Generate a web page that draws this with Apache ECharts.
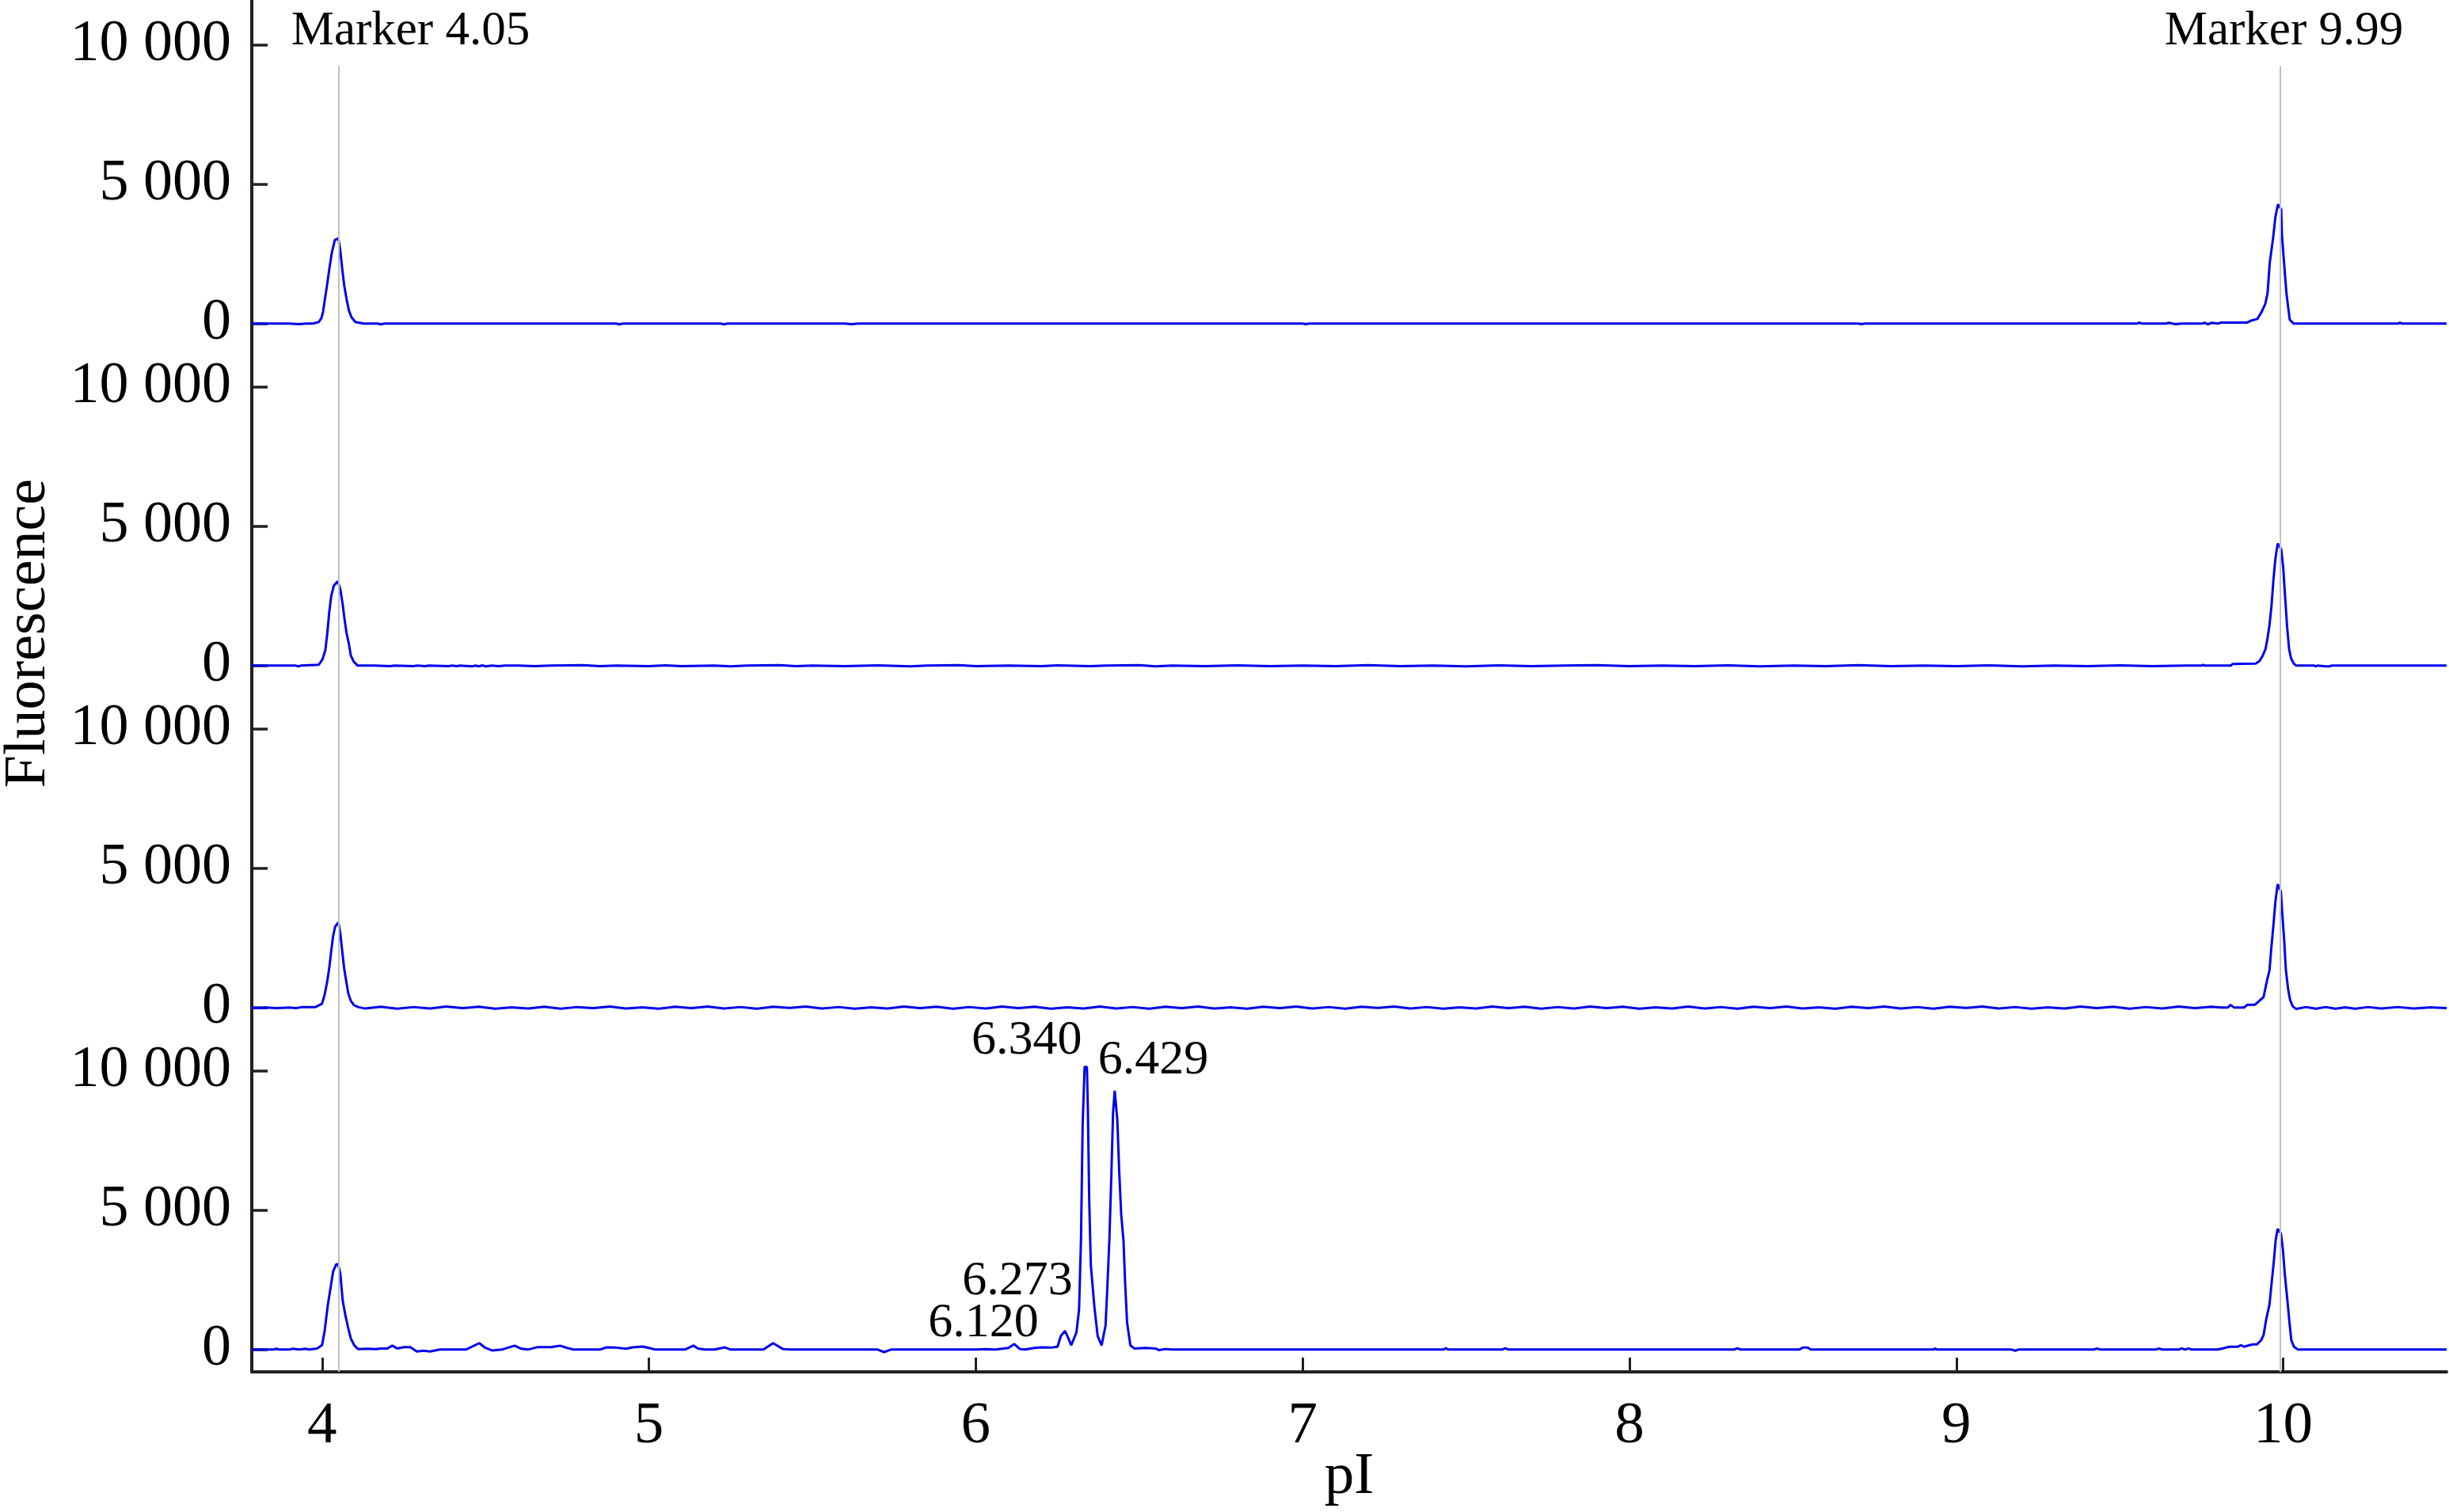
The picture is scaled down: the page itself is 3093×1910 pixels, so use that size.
<!DOCTYPE html>
<html><head><meta charset="utf-8">
<script src="https://cdn.jsdelivr.net/npm/echarts@6/dist/echarts.min.js"></script>
<style>html,body{margin:0;padding:0;background:#fff}#c{width:3093px;height:1910px}</style>
</head><body><div id="c"></div><script>
// ---------------- DATA ----------------
const xTicks = [4, 5, 6, 7, 8, 9, 10];
const yTicks = [0, 5000, 10000];
const xRange = [3.785, 10.5];
const markerPI = [4.05, 9.99];
const markerNames = ['Marker 4.05', 'Marker 9.99'];
const markerLineTop = 9250;
const peakPI = [6.340, 6.429, 6.273, 6.120];
const peakHeight = [10140, 9290, 670, 200];
const peakNames = ['6.340', '6.429', '6.273', '6.120'];

const trace1 = [[3.785,0],[3.9,0],[3.93,-20],[3.95,0],[3.971,0],[3.99,60],[3.998,200],[4.003,420],[4.009,900],[4.015,1360],[4.022,1950],[4.03,2550],[4.039,3000],[4.05,3060],[4.056,2600],[4.062,1930],[4.068,1350],[4.075,880],[4.082,480],[4.09,230],[4.102,60],[4.127,0],[4.17,0],[4.18,-25],[4.19,0],[4.9,0],[4.91,-25],[4.92,0],[5.22,0],[5.23,-25],[5.24,0],[5.6,0],[5.62,-20],[5.64,0],[7.0,0],[7.01,-20],[7.02,0],[8.7,0],[8.71,-20],[8.72,0],[9.55,0],[9.56,30],[9.57,0],[9.64,0],[9.65,30],[9.67,-20],[9.69,0],[9.75,0],[9.76,30],[9.77,-20],[9.78,30],[9.8,0],[9.81,40],[9.89,40],[9.9,100],[9.921,170],[9.933,400],[9.945,700],[9.952,1080],[9.959,2200],[9.969,3060],[9.976,3820],[9.984,4280],[9.994,4100],[9.996,3200],[10.003,2120],[10.01,1080],[10.02,140],[10.032,0],[10.35,0],[10.357,30],[10.365,0],[10.5,0]];

const trace2 = [[3.785,0],[3.92,0],[3.927,-25],[3.935,0],[3.99,30],[4.001,220],[4.01,550],[4.016,1160],[4.022,1920],[4.028,2490],[4.036,2870],[4.048,3030],[4.056,2730],[4.063,2210],[4.068,1730],[4.075,1160],[4.082,785],[4.088,360],[4.097,140],[4.109,0],[4.148,0],[4.152,-25],[4.16,0],[4.21,-20],[4.22,0],[4.28,-20],[4.29,0],[4.317,-20],[4.325,0],[4.388,-20],[4.395,0],[4.415,-20],[4.42,0],[4.46,-25],[4.47,0],[4.48,-25],[4.49,10],[4.5,-25],[4.52,0],[4.54,-20],[4.56,0],[4.6,0],[4.65,-20],[4.7,0],[4.8,20],[4.85,-20],[4.9,0],[5.0,-20],[5.05,10],[5.1,-20],[5.2,0],[5.25,-25],[5.3,0],[5.4,20],[5.45,-20],[5.5,0],[5.6,-20],[5.7,10],[5.8,-25],[5.85,0],[5.95,20],[6.0,-20],[6.1,0],[6.2,-20],[6.25,10],[6.35,-20],[6.4,0],[6.5,20],[6.55,-25],[6.6,0],[6.7,-20],[6.8,10],[6.9,-20],[7.0,0],[7.1,-20],[7.2,20],[7.3,-20],[7.4,0],[7.5,-25],[7.6,10],[7.7,-20],[7.8,0],[7.9,20],[8.0,-20],[8.1,0],[8.2,-20],[8.3,10],[8.4,-25],[8.5,0],[8.6,-20],[8.7,20],[8.8,-20],[8.9,0],[9.0,-20],[9.1,10],[9.2,-25],[9.3,0],[9.4,-20],[9.5,10],[9.6,-20],[9.7,0],[9.75,0],[9.755,25],[9.76,0],[9.84,0],[9.845,60],[9.916,75],[9.928,170],[9.938,370],[9.946,600],[9.952,975],[9.958,1450],[9.964,2110],[9.97,3060],[9.976,3820],[9.983,4380],[9.994,4170],[10.0,3530],[10.006,2440],[10.012,1400],[10.018,600],[10.024,265],[10.032,75],[10.04,0],[10.095,0],[10.1,-25],[10.105,0],[10.13,-25],[10.14,-25],[10.15,0],[10.5,0]];

const trace3 = [[3.785,0],[3.8,-20],[3.83,0],[3.86,-20],[3.9,0],[3.92,-20],[3.94,20],[3.98,20],[4.0,140],[4.008,470],[4.016,950],[4.022,1420],[4.028,2030],[4.034,2580],[4.04,2900],[4.05,3060],[4.056,2650],[4.062,1990],[4.068,1370],[4.074,950],[4.08,520],[4.088,240],[4.097,95],[4.11,20],[4.13,-30],[4.18,30],[4.23,-40],[4.28,20],[4.33,-30],[4.38,40],[4.43,-20],[4.48,30],[4.53,-40],[4.58,10],[4.63,-30],[4.68,30],[4.73,-40],[4.78,20],[4.83,-20],[4.88,40],[4.93,-30],[4.98,10],[5.03,-40],[5.08,30],[5.13,-20],[5.18,40],[5.23,-30],[5.28,20],[5.33,-40],[5.38,30],[5.43,-10],[5.48,40],[5.53,-30],[5.58,20],[5.63,-40],[5.68,10],[5.73,-30],[5.78,40],[5.83,-20],[5.88,30],[5.93,-40],[5.98,20],[6.03,-30],[6.08,40],[6.13,-20],[6.18,30],[6.23,-40],[6.28,10],[6.33,-30],[6.38,40],[6.43,-30],[6.48,20],[6.53,-40],[6.58,30],[6.63,-20],[6.68,40],[6.73,-30],[6.78,10],[6.83,-40],[6.88,30],[6.93,-20],[6.98,40],[7.03,-30],[7.08,20],[7.13,-40],[7.18,30],[7.23,-10],[7.28,40],[7.33,-30],[7.38,20],[7.43,-40],[7.48,10],[7.53,-30],[7.58,40],[7.63,-20],[7.68,30],[7.73,-40],[7.78,20],[7.83,-30],[7.88,40],[7.93,-20],[7.98,30],[8.03,-40],[8.08,10],[8.13,-30],[8.18,40],[8.23,-30],[8.28,20],[8.33,-40],[8.38,30],[8.43,-20],[8.48,40],[8.53,-30],[8.58,10],[8.63,-40],[8.68,30],[8.73,-20],[8.78,40],[8.83,-30],[8.88,20],[8.93,-40],[8.98,30],[9.03,-10],[9.08,40],[9.13,-30],[9.18,20],[9.23,-40],[9.28,10],[9.33,-30],[9.38,40],[9.43,-20],[9.48,30],[9.53,-40],[9.58,20],[9.63,-30],[9.68,40],[9.73,-20],[9.78,30],[9.81,0],[9.83,0],[9.839,100],[9.85,0],[9.88,0],[9.89,100],[9.913,100],[9.927,240],[9.94,380],[9.95,950],[9.958,1330],[9.964,2180],[9.97,2940],[9.976,3790],[9.983,4430],[9.993,4170],[9.997,3410],[10.003,2420],[10.008,1380],[10.015,660],[10.021,280],[10.029,50],[10.04,-50],[10.07,20],[10.1,-40],[10.13,20],[10.16,-40],[10.19,10],[10.22,-40],[10.26,20],[10.3,-30],[10.35,20],[10.4,-30],[10.45,10],[10.5,-20]];

const trace4 = [[3.785,0],[3.85,0],[3.86,30],[3.87,0],[3.9,0],[3.91,30],[3.93,0],[3.95,30],[3.96,0],[3.985,40],[4.0,160],[4.008,680],[4.018,1630],[4.027,2290],[4.034,2810],[4.043,3050],[4.049,3070],[4.056,2720],[4.063,1770],[4.071,1250],[4.08,775],[4.088,400],[4.098,160],[4.11,20],[4.14,30],[4.165,15],[4.18,40],[4.2,40],[4.215,140],[4.23,40],[4.25,90],[4.27,90],[4.29,-70],[4.31,-40],[4.33,-70],[4.36,0],[4.44,0],[4.481,230],[4.5,60],[4.52,-30],[4.55,0],[4.589,140],[4.61,30],[4.63,0],[4.66,90],[4.7,90],[4.728,140],[4.75,60],[4.77,0],[4.85,0],[4.87,80],[4.9,70],[4.93,30],[4.95,80],[4.981,110],[5.0,60],[5.02,0],[5.11,0],[5.136,140],[5.15,40],[5.17,0],[5.2,0],[5.233,80],[5.25,0],[5.35,0],[5.38,230],[5.41,20],[5.43,0],[5.7,0],[5.72,-90],[5.74,0],[6.0,0],[6.03,20],[6.06,0],[6.1,60],[6.118,200],[6.135,20],[6.15,0],[6.18,60],[6.2,80],[6.23,70],[6.25,100],[6.26,480],[6.273,670],[6.284,390],[6.292,150],[6.308,620],[6.316,1430],[6.322,3990],[6.327,8070],[6.333,10140],[6.34,10140],[6.343,8630],[6.347,5400],[6.352,3040],[6.363,1525],[6.373,480],[6.385,150],[6.397,860],[6.402,2090],[6.409,4030],[6.415,6350],[6.42,8490],[6.425,9290],[6.429,9290],[6.433,8250],[6.439,6350],[6.445,4840],[6.452,3890],[6.457,2380],[6.463,960],[6.473,150],[6.485,40],[6.52,60],[6.55,40],[6.56,-20],[6.58,20],[6.6,0],[7.43,0],[7.438,50],[7.445,0],[7.61,0],[7.62,50],[7.63,0],[8.32,0],[8.33,50],[8.34,0],[8.52,0],[8.53,70],[8.545,70],[8.555,0],[8.93,0],[8.935,40],[8.94,0],[9.17,0],[9.18,-40],[9.19,0],[9.42,0],[9.43,40],[9.44,0],[9.61,0],[9.62,40],[9.63,0],[9.68,0],[9.69,40],[9.7,0],[9.71,40],[9.72,0],[9.8,0],[9.819,50],[9.835,100],[9.86,100],[9.871,160],[9.88,100],[9.895,150],[9.908,190],[9.92,190],[9.932,330],[9.94,520],[9.948,1085],[9.958,1610],[9.964,2320],[9.971,3125],[9.977,3930],[9.983,4330],[9.993,4170],[9.999,3600],[10.005,2700],[10.013,1750],[10.019,990],[10.025,330],[10.033,100],[10.045,0],[10.5,0]];

const traces = [trace1, trace2, trace3, trace4];

// ---------------- STYLE / LAYOUT ----------------
const FONT = '"Liberation Serif", "Times New Roman", serif';
const AXIS = '#231f20';
const BLUE = '#0000ee';
const GRAY = '#c0c0c0';
const gridTops = [0, 437, 869, 1301];
const gridHeights = [437, 432, 432, 432];
const yMin = -800;
const yMaxes = [11612, 11470, 11470, 11470];
const markerOffsets = [[91, -43], [5, -43]];
const peakOffsets = [[-76, -33], [47, -38], [-60, -63], [-40, -26]];

const fmtThousands = v => String(v).replace(/\B(?=(\d{3})+(?!\d))/g, ' ');

const grids = gridTops.map((t, i) => ({ left: 318, right: 3, top: t, height: gridHeights[i], containLabel: false, outerBoundsMode: 'none' }));

const xAxes = traces.map((_, i) => {
  const last = i === traces.length - 1;
  return {
    type: 'value', gridIndex: i, min: xRange[0], max: xRange[1], show: last,
    axisLine: { show: true, onZero: false, lineStyle: { color: AXIS, width: 4 } },
    axisTick: { show: true, inside: true, length: 18, customValues: xTicks, lineStyle: { color: AXIS, width: 3 } },
    axisLabel: { show: true, customValues: xTicks, margin: 32, color: '#000', fontSize: 75, fontFamily: FONT, formatter: v => String(v) },
    splitLine: { show: false },
    name: last ? 'pI' : '', nameLocation: 'middle', nameGap: 96, nameMoveOverlap: false,
    nameTextStyle: { color: '#000', fontSize: 75, fontFamily: FONT }
  };
});

const yAxes = traces.map((_, i) => ({
  type: 'value', gridIndex: i, min: yMin, max: yMaxes[i],
  axisLine: { show: true, onZero: false, lineStyle: { color: AXIS, width: 4 } },
  axisTick: { show: true, inside: true, length: 20, customValues: yTicks, lineStyle: { color: AXIS, width: 3.5 } },
  axisLabel: { show: true, customValues: yTicks, margin: 26, color: '#000', fontSize: 74, fontFamily: FONT, formatter: fmtThousands },
  splitLine: { show: false }
}));

const series = traces.map((tr, i) => {
  const s = {
    type: 'line', xAxisIndex: i, yAxisIndex: i, data: tr,
    symbol: 'none', showSymbol: false, smooth: false, silent: true,
    lineStyle: { color: BLUE, width: 3 }, z: 3,
    markLine: {
      silent: true, symbol: ['none', 'none'], animation: false,
      lineStyle: { color: GRAY, width: 2, type: 'solid' },
      label: { show: false },
      data: markerPI.map(m => [
        { coord: [m, i === 0 ? markerLineTop : yMaxes[i]] },
        { coord: [m, yMin] }
      ])
    }
  };
  if (i === 0) {
    s.markPoint = {
      silent: true, symbol: 'circle', symbolSize: 0, animation: false,
      label: { show: true, position: 'inside', color: '#000', fontSize: 61, fontFamily: FONT },
      data: markerPI.map((m, k) => ({ coord: [m, markerLineTop], label: { formatter: markerNames[k], offset: markerOffsets[k] } }))
    };
  }
  if (i === traces.length - 1) {
    s.markPoint = {
      silent: true, symbol: 'circle', symbolSize: 0, animation: false,
      label: { show: true, position: 'inside', color: '#000', fontSize: 62, fontFamily: FONT },
      data: peakPI.map((p, k) => ({ coord: [p, peakHeight[k]], label: { formatter: peakNames[k], offset: peakOffsets[k] } }))
    };
  }
  return s;
});

const chart = echarts.init(document.getElementById('c'), null, { renderer: 'canvas' });
chart.setOption({
  animation: false,
  backgroundColor: '#fff',
  grid: grids, xAxis: xAxes, yAxis: yAxes, series: series,
  graphic: [{
    type: 'text', x: 37, y: 800, rotation: Math.PI / 2,
    style: { text: 'Fluorescence', fill: '#000', fontSize: 74, fontFamily: FONT, align: 'center', verticalAlign: 'middle' }
  }]
});
</script></body></html>
